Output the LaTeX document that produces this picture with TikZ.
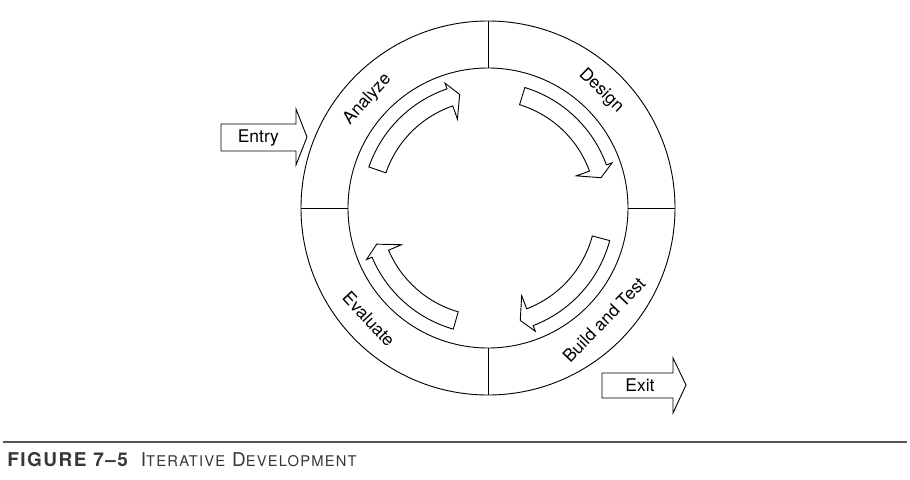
\documentclass[tikz,border=0pt]{standalone}
\usepackage{fontspec}
\setmainfont{TeX Gyre Heros}
\newfontfamily\capfont[LetterSpace=8]{TeX Gyre Heros}
\usetikzlibrary{positioning}

\definecolor{captiongray}{RGB}{55,55,55}
\definecolor{rulegray}{RGB}{85,85,85}

\newcommand{\lowcaps}[1]{{\fontsize{10.5}{12}\selectfont #1}}

\begin{document}
\begin{tikzpicture}[line width=0.65pt,
        phase/.style={font=\fontsize{12.4}{14}\selectfont, inner sep=0pt}]
            \useasboundingbox (-12.2,5.2) rectangle (10.55,-6.775);
            % ring
            \draw (0,0) circle (4.675);
            \draw (0,0) circle (3.5);
            \foreach \a in {0,90,180,270}
                {\draw (\a:3.5) -- (\a:4.675);}
            % phase names
            \node[phase, rotate=48] (analyze) at (138:4.05) {Analyze};
            \node[phase, rotate=-44] (design) at (46:4.07) {Design};
            \node[phase, rotate=46] (build) at (-44:4.03) {Build and Test};
            \node[phase, rotate=-47] (evaluate) at (223:4.07) {Evaluate};
            % curved arrows
            \foreach \s/\b/\t in {161/109/104, 73/20/15, -15/-69/-74, 254/203/198}
                {\draw (\s:3.15) arc[start angle=\s, end angle=\b, radius=3.15] -- (\b:3.3) -- (\t:2.925) -- (\b:2.35) -- (\b:2.7) arc[start angle=\b, end angle=\s, radius=2.7] -- cycle;}
            % entry and exit
            \draw (-6.675,2.1) -- (-4.8,2.1) -- (-4.8,2.475) -- (-4.525,1.775) -- (-4.8,1.075) -- (-4.8,1.425) -- (-6.675,1.425) -- cycle;
            \node[phase] (entry) at (-5.74,1.76) {Entry};
            \draw (2.85,-4.125) -- (4.625,-4.125) -- (4.625,-3.75) -- (4.95,-4.425) -- (4.625,-5.125) -- (4.625,-4.75) -- (2.85,-4.75) -- cycle;
            \node[phase] (exit) at (3.8,-4.44) {Exit};
            % caption
            \draw[rulegray, line width=1.1pt] (-12.125,-5.85) -- (10.475,-5.85);
            \node[anchor=base west, inner sep=0pt, text=captiongray, font=\capfont\bfseries\fontsize{13.5}{15}\selectfont] (fignum) at (-12.03,-6.45) {FIGURE 7\textendash 5};
            \node[base right=0.3cm of fignum, inner sep=0pt, text=captiongray, font=\capfont\fontsize{13.5}{15}\selectfont] (figtitle) {I\lowcaps{TERATIVE} D\lowcaps{EVELOPMENT}};
        \end{tikzpicture}
\end{document}
